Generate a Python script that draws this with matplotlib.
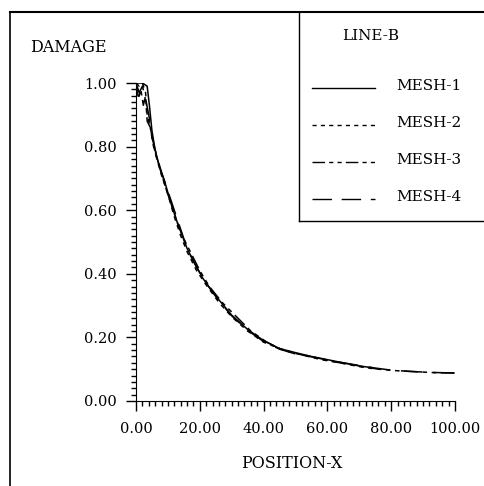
import numpy as np
import matplotlib
matplotlib.use('Agg')
from matplotlib import pyplot as plt
from matplotlib.lines import Line2D

plt.rcParams['font.family'] = ['DejaVu Serif']

# data
x1 = [0, 2, 3.5, 4.2, 5, 6, 7.5, 9, 11, 13, 16, 18, 21, 25, 30, 35, 40, 45, 50, 55, 60, 65, 70, 74]
y1 = [1.0, 1.0, 0.99, 0.93, 0.85, 0.79, 0.73, 0.69, 0.62, 0.56, 0.48, 0.44, 0.385, 0.33, 0.27, 0.225, 0.19, 0.165, 0.152, 0.14, 0.13, 0.12, 0.11, 0.105]

x2 = [0, 1, 2, 3, 3.5, 4.5, 6, 8, 10, 12, 14, 16, 19, 22, 26, 30, 35, 40, 45, 50, 55, 60, 65, 70, 74]
y2 = [1.0, 0.99, 1.0, 0.97, 0.9, 0.86, 0.78, 0.71, 0.65, 0.58, 0.52, 0.47, 0.41, 0.365, 0.31, 0.265, 0.22, 0.185, 0.165, 0.15, 0.14, 0.128, 0.118, 0.108, 0.102]

x3 = [0, 0.8, 1.5, 2.3, 3, 3.5, 4.5, 5.5, 7, 9, 11, 13, 15, 17.5, 20, 23, 27, 31, 36, 41, 46, 52, 58, 64, 70, 76, 82, 88, 94, 100]
y3 = [1.0, 0.95, 0.98, 0.93, 0.96, 0.88, 0.86, 0.80, 0.75, 0.68, 0.62, 0.56, 0.51, 0.46, 0.41, 0.36, 0.31, 0.27, 0.22, 0.185, 0.16, 0.145, 0.13, 0.12, 0.11, 0.1, 0.095, 0.092, 0.089, 0.088]

x4 = [0, 1, 2, 3, 4, 5, 6.5, 8, 10, 12, 14, 16, 19, 22, 26, 30, 35, 40, 45, 50, 56, 62, 68, 74, 80, 86, 92, 100]
y4 = [1.0, 0.97, 0.99, 0.95, 0.9, 0.83, 0.77, 0.72, 0.66, 0.6, 0.54, 0.48, 0.42, 0.37, 0.315, 0.268, 0.222, 0.187, 0.163, 0.148, 0.137, 0.125, 0.115, 0.105, 0.097, 0.093, 0.09, 0.088]

labels = ['MESH-1', 'MESH-2', 'MESH-3', 'MESH-4']
styles = ['-', (0, (3, 3)), (0, (9, 3, 3, 3, 3, 3)), (0, (14, 7))]

W, H = 485, 486
fig = plt.figure(figsize=(W / 100, H / 100), dpi=100)
ax = fig.add_axes([136 / W, 1 - 401 / H, (455 - 136) / W, (401 - 83) / H])

for xs, ys, ls, lab in zip([x1, x2, x3, x4], [y1, y2, y3, y4], styles, labels):
    ax.plot(xs, ys, color='black', linestyle=ls, linewidth=1.1, label=lab)

ax.set_xlim(0, 100)
ax.set_ylim(0, 1)
ax.set_xticks(np.arange(0, 101, 20))
ax.set_yticks(np.arange(0, 1.01, 0.2))
ax.set_xticks(np.arange(0, 101, 2), minor=True)
ax.set_yticks(np.arange(0, 1.01, 0.02), minor=True)
ax.set_xticklabels(['%.2f' % v for v in np.arange(0, 101, 20)])
ax.set_yticklabels(['%.2f' % v for v in np.arange(0, 1.01, 0.2)])
ax.tick_params(which='major', length=7, width=1, labelsize=10.5, pad=7)
ax.tick_params(which='minor', length=3.5, width=1)
ax.tick_params(axis='x', pad=8)
ax.spines['top'].set_visible(False)
ax.spines['right'].set_visible(False)

fig.text(30 / W, 1 - 47 / H, 'DAMAGE', fontsize=11.5, va='center', ha='left')
fig.text(292 / W, 1 - 463 / H, 'POSITION-X', fontsize=11.5, va='center', ha='center')

# outer frame and legend box
fig.add_artist(Line2D([10 / W, 10 / W], [0, 1 - 12 / H], color='black', lw=1.2))
fig.add_artist(Line2D([10 / W, 1], [1 - 12 / H, 1 - 12 / H], color='black', lw=1.5))
fig.add_artist(Line2D([299 / W, 299 / W], [1 - 12 / H, 1 - 221 / H], color='black', lw=1.0))
fig.add_artist(Line2D([299 / W, 1], [1 - 221 / H, 1 - 221 / H], color='black', lw=1.0))

fig.text(342 / W, 1 - 36 / H, 'LINE-B', fontsize=11, va='center', ha='left')
rows = [88, 125, 162, 199]
for r, ls, lab in zip(rows, styles, labels):
    fig.add_artist(Line2D([312 / W, 375 / W], [1 - r / H, 1 - r / H], color='black',
                          linestyle=ls, lw=1.0))
    fig.text(396 / W, 1 - (r - 2) / H, lab, fontsize=11, va='center', ha='left')

fig.savefig('out.png', dpi=100)
